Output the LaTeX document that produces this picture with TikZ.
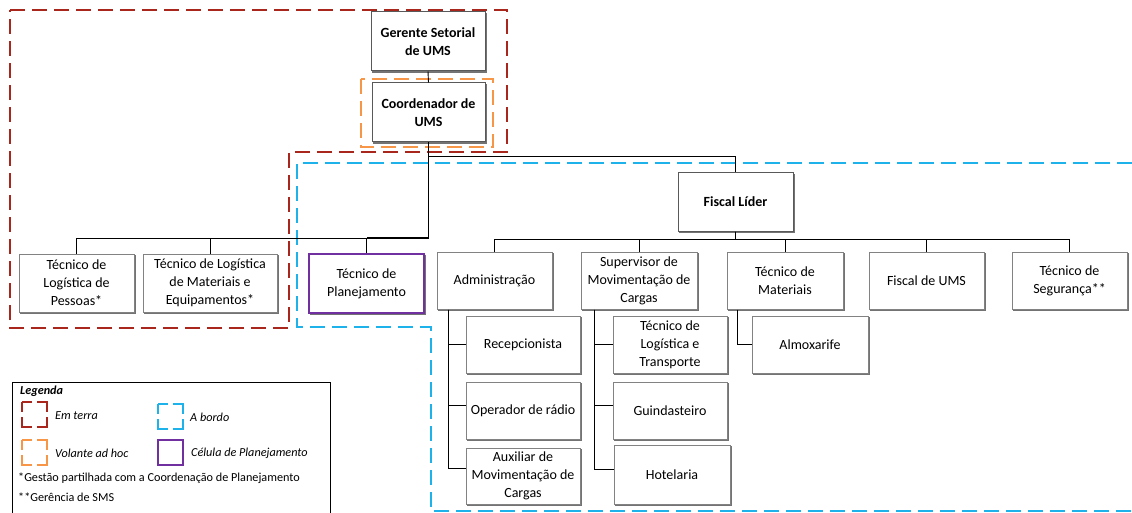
\documentclass[tikz,border=0pt]{standalone}
\usepackage{fontspec}
\setmainfont{Carlito}

\definecolor{terra}{RGB}{168,38,28}
\definecolor{volante}{RGB}{247,150,70}
\definecolor{bordo}{RGB}{30,178,235}
\definecolor{celula}{RGB}{112,48,160}
\definecolor{boxline}{RGB}{130,130,130}

\tikzset{
  orgbox/.style={draw=boxline, line width=1pt, fill=white, align=center,
    font=\fontsize{14}{18}\selectfont, inner sep=2pt,
    preaction={draw=black!55, fill=black!55, line width=1pt,
      transform canvas={xshift=1.3pt, yshift=-1.8pt}}},
  leadbox/.style={orgbox, draw=black!65, font=\fontsize{14}{18}\selectfont\bfseries},
  planbox/.style={orgbox, draw=celula, line width=2pt},
  conn/.style={draw=black, line width=0.9pt},
  trunk/.style={draw=black, line width=1.7pt},
  region/.style={line width=2pt, dash pattern=on 15pt off 7pt},
  legsq/.style={line width=2pt, dash pattern=on 20pt off 5pt, dash phase=10pt},
  legtext/.style={anchor=west, inner sep=0pt, font=\fontsize{12.2}{14}\selectfont},
}

\begin{document}
\begin{tikzpicture}[x=1pt, y=-1pt]
\useasboundingbox (0,0) rectangle (1132,513);

% groupings of positions
\draw[region, terra] (10,10) -- (507,10) -- (507,152) -- (289,152) -- (289,328) -- (10,328) -- cycle;
\draw[region, volante] (361,79) rectangle (493,147);
\draw[region, bordo] (1132,163) -- (297,163) -- (297,327) -- (431,327) -- (431,511) -- (1132,511);

% management
\node[leadbox, minimum width=114pt, minimum height=59pt] (ger) at (428,41.5) {Gerente Setorial\\de UMS};
\node[leadbox, minimum width=113pt, minimum height=59pt] (coord) at (428.5,112.5) {Coordenador de\\UMS};

% shore staff
\node[orgbox, minimum width=115pt, minimum height=58pt] (pessoas) at (76.5,283) {Técnico de\\Logística de\\Pessoas*};
\node[orgbox, minimum width=134pt, minimum height=58pt] (mateq) at (210,283) {Técnico de Logística\\de Materiais e\\Equipamentos*};
\node[planbox, minimum width=115pt, minimum height=59pt] (planej) at (366.5,283.5) {Técnico de\\Planejamento};

% on board
\node[leadbox, minimum width=115pt, minimum height=58pt] (fiscal) at (735.5,202) {Fiscal Líder};

\node[orgbox, minimum width=115pt, minimum height=57pt] (adm) at (494.5,280.5) {Administração};
\node[orgbox, minimum width=116pt, minimum height=57pt] (sup) at (639,280.5) {Supervisor de\\Movimentação de\\Cargas};
\node[orgbox, minimum width=116pt, minimum height=57pt] (tmat) at (785,280.5) {Técnico de\\Materiais};
\node[orgbox, minimum width=115pt, minimum height=57pt] (fums) at (926.5,280.5) {Fiscal de UMS};
\node[orgbox, minimum width=115pt, minimum height=57pt] (seg) at (1069.5,280.5) {Técnico de\\Segurança**};

\node[orgbox, minimum width=114pt, minimum height=57pt] (recep) at (523,344.5) {Recepcionista};
\node[orgbox, minimum width=114pt, minimum height=57pt] (oper) at (523,410.5) {Operador de rádio};
\node[orgbox, minimum width=114pt, minimum height=56pt] (aux) at (523,476) {Auxiliar de\\Movimentação de\\Cargas};

\node[orgbox, minimum width=114pt, minimum height=57pt] (tlt) at (670,344.5) {Técnico de\\Logística e\\Transporte};
\node[orgbox, minimum width=114pt, minimum height=57pt] (guin) at (670,410.5) {Guindasteiro};
\node[orgbox, minimum width=116pt, minimum height=59pt] (hotel) at (672,474.5) {Hotelaria};

\node[orgbox, minimum width=116pt, minimum height=57pt] (almox) at (810,344.5) {Almoxarife};

% reporting lines
\draw[conn] (ger.south) -- (coord.north);
\draw[conn] (coord.south) |- ([yshift=16pt]fiscal.north) -- (fiscal.north);
\draw[conn] (coord.south) |- ([yshift=15pt]pessoas.north) -- (pessoas.north);
\draw[conn] (coord.south) |- ([yshift=15pt]mateq.north) -- (mateq.north);
\draw[trunk] (coord.south) |- ([yshift=15pt]planej.north);
\draw[conn] ([yshift=15pt]planej.north) -- (planej.north);

\foreach \c in {adm,sup,tmat,fums,seg}
  \draw[conn] (fiscal.south) |- ([yshift=12pt]\c.north) -- (\c.north);

\draw[conn] ([xshift=12pt]adm.south west) |- (recep.west);
\draw[conn] ([xshift=12pt]adm.south west) |- ([yshift=5.5pt]oper.west);
\draw[conn] ([xshift=12pt]adm.south west) |- ([yshift=8pt]aux.west);

\draw[conn] ([xshift=14pt]sup.south west) |- (tlt.west);
\draw[conn] ([xshift=14pt]sup.south west) |- ([yshift=5.5pt]guin.west);
\draw[conn] ([xshift=14pt]sup.south west) |- ([yshift=5.5pt]hotel.west);

\draw[conn] ([xshift=11pt]tmat.south west) |- (almox.west);

% legend
\draw[line width=1pt] (12,513) -- (12,382) -- (330,382) -- (330,513);
\node[legtext, font=\fontsize{12.2}{14}\selectfont\bfseries\itshape] (legtitle) at (20,391) {Legenda};
\draw[legsq, terra] (22,402) rectangle (47,427);
\node[legtext] (legterra) at (55,416) {\itshape Em terra};
\draw[legsq, bordo] (158,404) rectangle (183,429);
\node[legtext] (legbordo) at (190,417) {\itshape A bordo};
\draw[legsq, volante] (22,440) rectangle (47,465);
\node[legtext] (legvol) at (55,453) {\itshape Volante ad hoc};
\draw[line width=2pt, celula] (158,440) rectangle (183,465);
\node[legtext] (legcel) at (191,453) {\itshape Célula de Planejamento};
\node[legtext] (legnote1) at (18,478) {*Gestão partilhada com a Coordenação de Planejamento};
\node[legtext] (legnote2) at (18,497) {**Gerência de SMS};
\end{tikzpicture}
\end{document}
